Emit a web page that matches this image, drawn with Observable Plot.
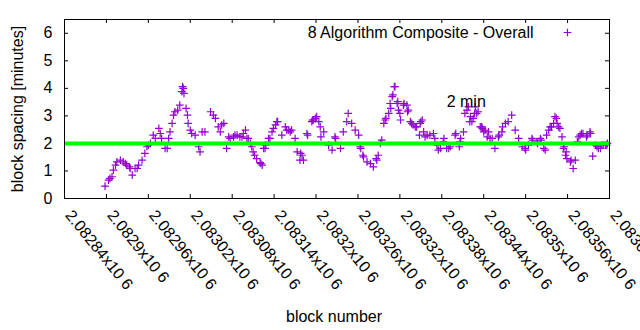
<!DOCTYPE html>
<html>
<head>
<meta charset="utf-8">
<script src="https://cdn.jsdelivr.net/npm/d3@7"></script>
<script src="https://cdn.jsdelivr.net/npm/@observablehq/plot@0.6"></script>
<style>
  html, body { margin: 0; padding: 0; background: #fff; }
  #chart svg { display: block; }
</style>
</head>
<body>
<div id="chart"></div>
<script>
// ---- data ----
const blocks = [
  2082898,2082903,2082905,2082908,2082910,2082913,2082915,2082920,2082924,2082927,
  2082929,2082933,2082934,2082937,2082941,2082944,2082946,2082951,2082955,2082958,
  2082960,2082963,2082967,2082970,2082975,2082977,2082979,2082984,2082987,2082989,
  2082991,2082994,2082996,2082998,2083002,2083005,2083008,2083009,2083010,2083011,
  2083014,2083016,2083017,2083020,2083022,2083027,2083032,2083034,2083037,2083041,
  2083049,2083053,2083056,2083060,2083063,2083065,2083068,2083072,2083075,2083077,
  2083082,2083084,2083087,2083091,2083094,2083096,2083099,2083101,2083103,2083106,
  2083108,2083110,2083112,2083115,2083120,2083121,2083123,2083125,2083127,2083128,
  2083132,2083134,2083137,2083139,2083142,2083144,2083145,2083151,2083156,2083158,
  2083161,2083163,2083165,2083170,2083173,2083177,2083178,2083180,2083182,2083187,
  2083188,2083194,2083195,2083196,2083199,2083201,2083204,2083206,2083207,2083211,
  2083218,2083223,2083227,2083228,2083235,2083239,2083244,2083246,2083251,2083256,
  2083261,2083263,2083264,2083267,2083268,2083273,2083278,2083282,2083286,2083287,
  2083289,2083292,2083294,2083297,2083299,2083300,2083304,2083306,2083307,2083309,
  2083310,2083312,2083313,2083316,2083317,2083318,2083320,2083321,2083325,2083326,
  2083330,2083331,2083332,2083335,2083337,2083339,2083342,2083344,2083348,2083349,
  2083350,2083352,2083354,2083356,2083359,2083363,2083368,2083370,2083373,2083375,
  2083378,2083382,2083383,2083387,2083390,2083392,2083399,2083400,2083405,2083406,
  2083407,2083411,2083413,2083416,2083418,2083420,2083421,2083423,2083425,2083427,
  2083428,2083430,2083432,2083435,2083437,2083438,2083440,2083442,2083445,2083447,
  2083449,2083452,2083456,2083461,2083462,2083466,2083467,2083471,2083475,2083480,
  2083485,2083490,2083495,2083499,2083500,2083504,2083509,2083510,2083516,2083517,
  2083521,2083522,2083526,2083528,2083530,2083533,2083535,2083537,2083540,2083542,
  2083544,2083545,2083547,2083549,2083552,2083554,2083555,2083557,2083558,2083559,
  2083564,2083565,2083568,2083571,2083574,2083576,2083578,2083580,2083582,2083587,
  2083588,2083592,2083593,2083596,2083600,2083602,2083604,2083607,2083609,2083611,
  2083614,2083616,2083617
];
const spacing = [
  0.45,0.67,0.73,0.79,1.03,1.21,1.33,1.39,1.33,1.27,
  1.21,1.15,1.09,0.85,1.09,1.09,1.21,1.39,1.64,1.88,
  1.94,2.00,2.30,2.18,2.55,2.36,2.18,1.82,1.82,2.18,
  2.42,2.73,3.03,3.15,3.21,3.39,3.88,4.06,4.00,3.82,
  3.27,3.03,2.73,2.48,2.36,2.30,1.88,1.69,2.42,2.42,
  3.15,3.03,2.91,2.60,2.42,2.67,2.73,1.82,2.24,2.18,
  2.24,2.30,2.30,2.24,2.24,2.36,2.48,2.18,2.18,2.00,
  1.88,1.69,1.57,1.45,1.30,1.27,1.21,1.82,1.82,1.94,
  2.18,2.18,2.42,2.55,2.67,2.79,2.79,2.30,2.60,2.48,
  2.48,2.42,2.48,2.18,1.69,1.39,1.64,1.57,1.39,2.36,
  2.30,2.79,2.85,2.85,2.91,2.97,2.79,2.60,2.24,2.42,
  1.94,1.76,2.24,2.18,1.82,2.42,2.79,3.09,2.73,2.48,
  2.30,1.88,1.82,1.57,1.51,1.33,1.27,1.15,1.45,1.39,
  1.57,2.00,2.12,2.73,2.85,2.91,3.09,3.45,3.27,3.70,
  3.76,4.06,4.06,3.45,3.52,3.21,3.09,2.85,3.39,3.45,
  3.39,3.15,3.21,2.79,2.73,2.67,2.60,2.60,2.30,2.73,
  2.79,2.85,2.42,2.24,2.30,2.30,2.36,2.18,1.94,1.76,
  1.82,2.06,2.18,1.82,1.82,1.88,2.30,2.36,1.88,2.06,
  2.18,2.42,3.09,3.21,3.33,2.79,2.97,2.79,2.91,3.09,
  3.33,3.09,3.15,2.60,2.60,2.55,2.42,2.48,2.24,2.42,
  2.18,2.18,1.82,2.24,2.30,2.42,2.60,2.73,2.79,3.03,
  2.48,2.18,1.88,1.82,1.76,1.94,2.18,2.12,2.06,2.00,
  2.18,2.12,1.82,1.76,2.30,2.48,2.60,2.60,2.73,2.97,
  2.91,2.73,2.60,2.55,2.24,1.82,1.88,1.57,1.69,1.45,
  1.33,1.39,1.09,1.39,2.06,2.24,2.30,2.36,2.36,2.24,
  2.30,2.42,2.36,1.54,1.94,1.88,1.82,1.82,1.94,1.94,
  1.94,1.94,2.00
];
const xTicks = [2082840,2082900,2082960,2083020,2083080,2083140,2083200,
                2083260,2083320,2083380,2083440,2083500,2083560,2083620];
const xTickLabels = ["2.08284x10 6","2.0829x10 6","2.08296x10 6","2.08302x10 6",
  "2.08308x10 6","2.08314x10 6","2.0832x10 6","2.08326x10 6","2.08332x10 6",
  "2.08338x10 6","2.08344x10 6","2.0835x10 6","2.08356x10 6","2.08362x10 6"];
const yTicks = [0,1,2,3,4,5,6];
const targetMinutes = [2];
const seriesName = "8 Algorithm Composite - Overall";
const annotationText = ["2 min"];
const annotationBlock = [2083387];
const annotationMinutes = [3.5];

// ---- chart ----
const W = 640, H = 330;
const mL = 64, mR = 31, mT = 19, mB = 132;
const innerW = W - mL - mR, innerH = H - mT - mB;
const purple = "#9400d3", green = "#00ff00";
const FONT = "'Liberation Sans', Arial, sans-serif";
const FS = 16;
const data = blocks.map((b, i) => ({block: b, minutes: spacing[i]}));
const tickLen = 4;
const crossR = 2.6;

const chart = Plot.plot({
  width: W, height: H,
  marginLeft: mL, marginRight: mR, marginTop: mT, marginBottom: mB,
  style: {fontFamily: FONT, fontSize: FS + "px", color: "#000", background: "#fff"},
  x: {domain: [xTicks[0], xTicks[xTicks.length - 1]], axis: null},
  y: {domain: [0, 6.5], axis: null},
  marks: [
    // y tick labels
    Plot.text(yTicks, {y: d => d, text: d => String(d), frameAnchor: "left", dx: -12,
      textAnchor: "end", lineAnchor: "middle", fontSize: FS, fill: "#000"}),
    // inward ticks left & right
    Plot.tickY(yTicks, {y: d => d, insetRight: innerW - tickLen, stroke: "#000"}),
    Plot.tickY(yTicks, {y: d => d, insetLeft: innerW - tickLen, stroke: "#000"}),
    // inward ticks bottom & top
    Plot.tickX(xTicks, {x: d => d, insetTop: innerH - tickLen, stroke: "#000"}),
    Plot.tickX(xTicks, {x: d => d, insetBottom: innerH - tickLen, stroke: "#000"}),
    // rotated x tick labels
    Plot.text(xTicks, {x: d => d, text: (d, i) => xTickLabels[i], frameAnchor: "bottom",
      dy: 17, rotate: 51, textAnchor: "start", lineAnchor: "bottom", fontSize: FS, fill: "#000"}),
    // data points
    Plot.dot(data, {x: "block", y: "minutes", symbol: "plus", r: crossR, stroke: purple, strokeWidth: 1.2}),
    // 2-minute target line
    Plot.ruleY(targetMinutes, {stroke: green, strokeWidth: 4}),
    // annotation
    Plot.text(annotationText, {x: (d, i) => annotationBlock[i], y: (d, i) => annotationMinutes[i],
      text: d => d, textAnchor: "start", lineAnchor: "middle", fontSize: FS, fill: "#000"}),
    // legend
    Plot.text([seriesName], {text: d => d, frameAnchor: "top-right", dx: -76, dy: 13,
      textAnchor: "end", lineAnchor: "middle", fontSize: FS, fill: "#000"}),
    Plot.dot([seriesName], {x: null, y: null, frameAnchor: "top-right", dx: -42, dy: 13,
      symbol: "plus", r: crossR, stroke: purple, strokeWidth: 1.2}),
    // axis titles
    Plot.text(["block spacing [minutes]"], {text: d => d, frameAnchor: "left", dx: -47, rotate: -90,
      textAnchor: "middle", lineAnchor: "middle", fontSize: FS, fill: "#000"}),
    Plot.text(["block number"], {text: d => d, frameAnchor: "bottom", dy: 118, dx: -3,
      textAnchor: "middle", lineAnchor: "middle", fontSize: FS, fill: "#000"}),
    Plot.frame({stroke: "#000", strokeWidth: 1})
  ]
});
document.getElementById("chart").appendChild(chart);
</script>
</body>
</html>
